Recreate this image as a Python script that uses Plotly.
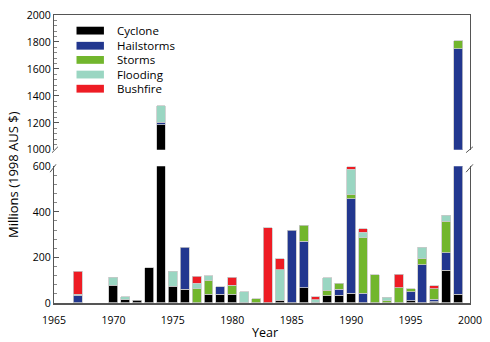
import plotly.graph_objects as go

years = list(range(1967, 2000))
# values in millions (1998 AUS $)
cyclone = {1970: 78, 1971: 14, 1972: 13, 1973: 155, 1974: 1185, 1975: 74, 1976: 60,
           1978: 39, 1979: 39, 1980: 39, 1984: 12, 1986: 67, 1988: 32, 1989: 35,
           1990: 42, 1995: 10, 1997: 6, 1998: 143, 1999: 38}
hailstorms = {1967: 35, 1974: 20, 1976: 185, 1979: 32, 1985: 320, 1986: 204, 1989: 25,
              1990: 416, 1991: 42, 1995: 39, 1996: 168, 1997: 10, 1998: 77, 1999: 1712}
storms = {1977: 62, 1978: 61, 1980: 38, 1982: 19, 1986: 71, 1988: 25, 1989: 26,
          1990: 17, 1991: 244, 1992: 125, 1993: 10, 1994: 68, 1995: 13, 1996: 26,
          1997: 46, 1998: 138, 1999: 60}
flooding = {1967: 3, 1970: 36, 1971: 14, 1974: 120, 1975: 66, 1977: 24, 1978: 20,
            1981: 50, 1984: 134, 1987: 15, 1988: 53, 1990: 113, 1991: 24, 1993: 15,
            1996: 51, 1998: 28}
bushfire = {1967: 102, 1977: 31, 1980: 37, 1983: 330, 1984: 48, 1987: 12, 1990: 10,
            1991: 15, 1994: 58, 1997: 14}

series = [("Cyclone", cyclone, "#000000"),
          ("Hailstorms", hailstorms, "#22378f"),
          ("Storms", storms, "#72b62d"),
          ("Flooding", flooding, "#9ad6c2"),
          ("Bushfire", bushfire, "#ee1c24")]

x_ticks = [1965, 1970, 1975, 1980, 1985, 1990, 1995, 2000]

fig = go.Figure()
for name, d, col in series:
    xs = [y for y in years if y in d]
    vals = [d[y] for y in xs]
    for xa, ya in (("x", "y"), ("x2", "y2")):
        fig.add_trace(go.Bar(x=xs, y=vals, name=name, xaxis=xa, yaxis=ya,
                             marker=dict(color=col, line=dict(color="#c8c8c8", width=0.8)),
                             width=0.75, showlegend=False))

FONT = "Open Sans"
axcol = "#555555"
fig.update_layout(
    barmode="stack",
    width=490, height=342,
    margin=dict(l=54, r=11, t=8, b=39),
    plot_bgcolor="white", paper_bgcolor="white",
    font=dict(family=FONT, size=10.5, color="black"),
    xaxis=dict(type="linear", range=[1964.999, 2000.001], tickvals=x_ticks, showline=True,
               linecolor=axcol, linewidth=1.5, ticks="", showgrid=False, zeroline=False,
               anchor="y", ticklabelstandoff=7, ticklabeloverflow="allow"),
    xaxis2=dict(type="linear", range=[1964.999, 2000.001], matches="x", showline=True,
                linecolor=axcol, linewidth=1, side="top", anchor="y2",
                showticklabels=False, ticks="", showgrid=False, zeroline=False),
    yaxis=dict(domain=[0, 0.4746], range=[0, 600], tickvals=[0, 200, 400, 600],
               showline=True, mirror=True, linecolor=axcol, linewidth=1.2, ticks="inside",
               ticklen=5, tickcolor=axcol, showgrid=False, zeroline=False,
               minor=dict(dtick=40, ticks="inside", ticklen=3, tickcolor="#888888")),
    yaxis2=dict(domain=[0.532, 1], range=[1000, 2000],
                tickvals=[1000, 1200, 1400, 1600, 1800, 2000],
                showline=True, mirror=True, linecolor=axcol, linewidth=1.2, ticks="inside",
                ticklen=5, tickcolor=axcol, showgrid=False, zeroline=False,
                minor=dict(dtick=40, ticks="inside", ticklen=3, tickcolor="#888888")),
)

def px2paper(px, py):
    return (px - 54) / 425, (303 - py) / 295

# axis titles
tx, ty = px2paper(12, 171)
fig.add_annotation(text="Millions (1998 AUS $)", xref="paper", yref="paper",
                   x=tx, y=ty, textangle=-90, showarrow=False,
                   font=dict(size=13, family=FONT), xanchor="center", yanchor="middle")
tx, ty = px2paper(270, 333)
fig.add_annotation(text="Year", xref="paper", yref="paper", x=tx, y=ty, showarrow=False,
                   font=dict(size=12.5, family=FONT), xanchor="center", yanchor="middle")

# break marks
for (x0, y0, x1, y1) in [(50, 169, 56, 161), (52, 149, 58, 143),
                         (475, 169, 482, 161), (475, 149, 482, 143)]:
    a, b = px2paper(x0, y0)
    c, d = px2paper(x1, y1)
    fig.add_shape(type="line", xref="paper", yref="paper", x0=a, y0=b, x1=c, y1=d,
                  line=dict(color=axcol, width=1))

# custom legend
row_y = [24, 39.5, 54, 69, 83.5]
for (name, d, col), ry in zip(series, row_y):
    a, b = px2paper(77, ry - 4)
    c, e = px2paper(105, ry + 4)
    fig.add_shape(type="rect", xref="paper", yref="paper", x0=a, y0=b, x1=c, y1=e,
                  fillcolor=col, line=dict(width=0))
    tx, ty = px2paper(116, ry)
    fig.add_annotation(text=name, xref="paper", yref="paper", x=tx, y=ty,
                       xanchor="left", yanchor="middle", showarrow=False,
                       font=dict(size=11.5, family=FONT))

fig.write_html("out.html")
